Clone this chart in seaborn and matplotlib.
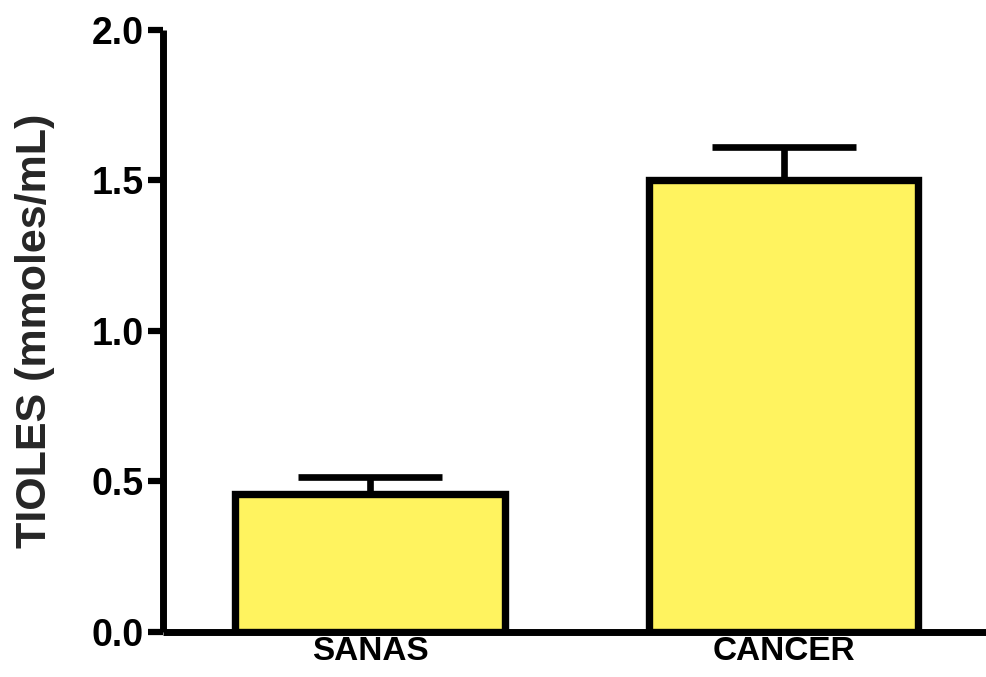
import matplotlib
matplotlib.use("Agg")
import matplotlib.pyplot as plt
import seaborn as sns
import pandas as pd

# Group means and standard errors of thiol levels
groups = ["SANAS", "CANCER"]
means = [0.46, 1.50]
errors = [0.055, 0.112]
y_ticks = [0.0, 0.5, 1.0, 1.5, 2.0]
y_label = "TIOLES (mmoles/mL)"

sns.set_theme(style="white")
plt.rcParams["font.family"] = ["Liberation Sans", "DejaVu Sans"]
plt.rcParams["font.weight"] = "bold"

df = pd.DataFrame({"grupo": groups, "tioles": means})

fig = plt.figure(figsize=(9.86, 6.77), dpi=100)
ax = fig.add_axes([0.1653, 0.0665, 0.8397, 0.8892])

# Upward-only error bars, drawn first so the bar outline sits over the stem
ax.errorbar(
    x=range(len(groups)), y=means,
    yerr=[[0] * len(errors), errors],
    fmt="none", ecolor="black", elinewidth=4.8,
    capsize=52, capthick=4.8, zorder=1,
)
for line in ax.lines:
    line.set_solid_capstyle("round")

sns.barplot(
    data=df, x="grupo", y="tioles", ax=ax,
    color="#FFF35F", saturation=1, width=0.65,
    edgecolor="black", linewidth=5.3, errorbar=None, zorder=2,
)

ax.set_xlim(-0.5, 1.5)
ax.set_ylim(0, 2.0)
ax.set_yticks(y_ticks)
ax.set_yticklabels([f"{v:.1f}" for v in y_ticks])
ax.set_xlabel("")
ax.set_ylabel(y_label, fontsize=31, fontweight="bold", labelpad=26)

for side in ("top", "right"):
    ax.spines[side].set_visible(False)
for side in ("left", "bottom"):
    ax.spines[side].set_linewidth(5)
    ax.spines[side].set_color("black")
    ax.spines[side].set_capstyle("butt")

ax.tick_params(axis="y", length=11, width=4.5, color="black", pad=3,
               labelsize=27, left=True)
ax.tick_params(axis="x", length=0, pad=3, labelsize=24)
for lab in ax.get_xticklabels() + ax.get_yticklabels():
    lab.set_fontweight("bold")
    lab.set_color("black")

fig.savefig("out.png", dpi=100)
